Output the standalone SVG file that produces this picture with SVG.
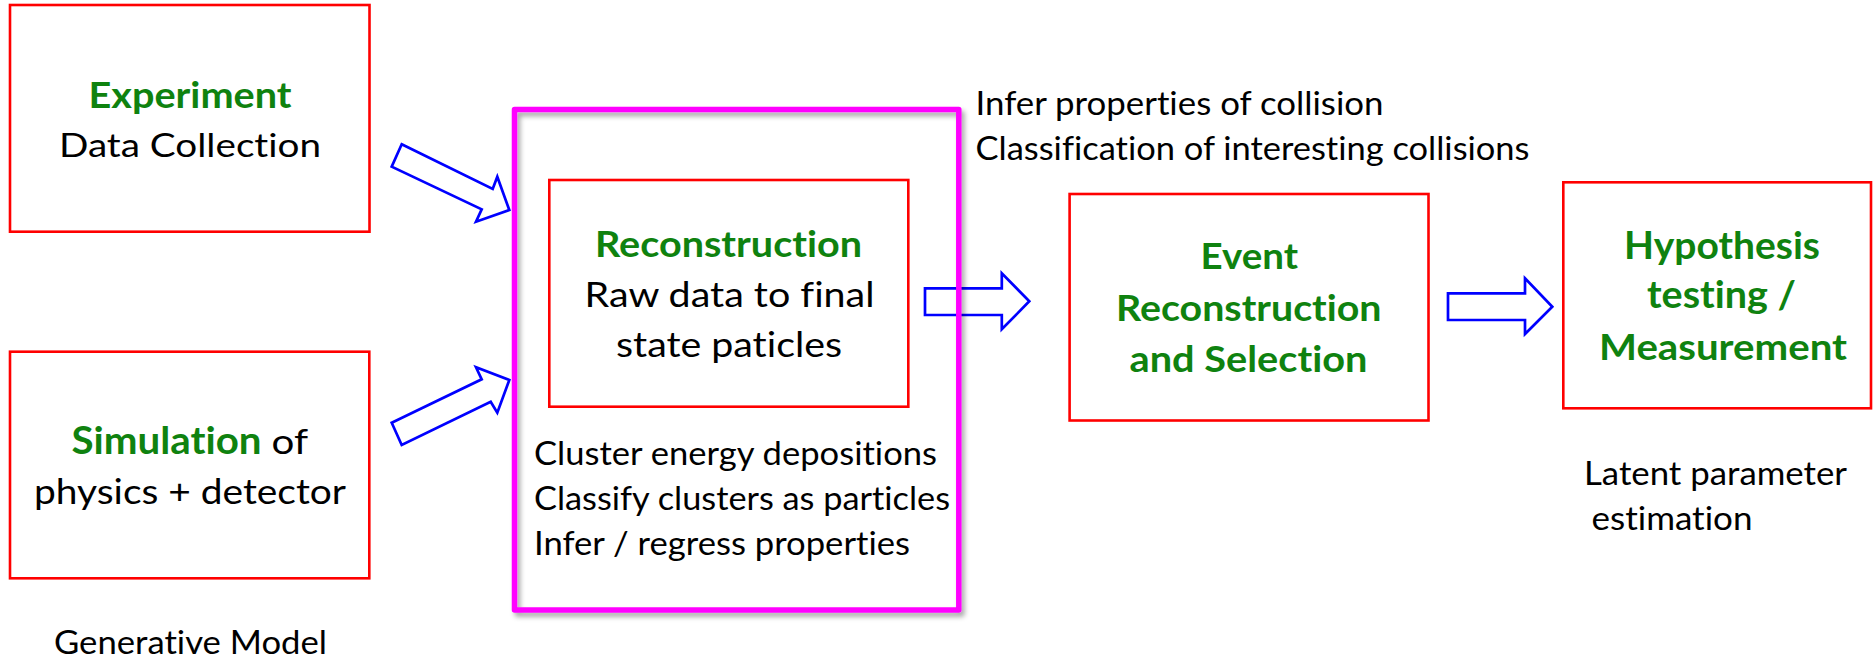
<svg xmlns="http://www.w3.org/2000/svg" width="1874" height="660" viewBox="0 0 1874 660">
<defs>
<style>
.box{fill:none;stroke:#FF0000;stroke-width:2.6}
.arrow{fill:#FFFFFF;stroke:#0000FF;stroke-width:2.7;stroke-linejoin:miter}
.t{font-family:Lato,"Liberation Sans",sans-serif;fill:#000000;font-variant-ligatures:none}
.b{font-family:Lato,"Liberation Sans",sans-serif;font-weight:bold;fill:#0F820F;font-variant-ligatures:none}
.frame{fill:none;stroke:#FF00FF;stroke-width:5.5;stroke-linejoin:round}
</style>
<filter id="shadow" x="-10%" y="-10%" width="120%" height="120%">
<feDropShadow dx="3" dy="4" stdDeviation="2.5" flood-color="#000000" flood-opacity="0.35"/>
</filter>
</defs>
<rect width="1874" height="660" fill="#FFFFFF"/>

<g id="connectors">
<polygon class="arrow" points="401.7,144.3 492.7,189 497.3,176.7 509.3,210 476,221.7 481.7,209.3 391.7,166.7"/>
<polygon class="arrow" points="391.7,422.7 481.7,379.3 476,367.3 509.3,380 497.3,412.7 490.7,401.7 401.7,445"/>
<polygon class="arrow" points="925,288.3 1001.8,288.3 1001.8,273.3 1029.3,301.3 1001.8,329.3 1001.8,315 925,315"/>
<polygon class="arrow" points="1448,293.3 1525,293.3 1525,278.3 1552.3,306.7 1525,334 1525,320 1448,320"/>
</g>

<g id="experiment">
<rect class="box" x="10" y="5" width="359.5" height="226.7"/>
<text class="b" x="88.5" y="108" font-size="37" textLength="203" lengthAdjust="spacingAndGlyphs">Experiment</text>
<text class="t" x="59" y="157" font-size="33.5" textLength="262" lengthAdjust="spacingAndGlyphs">Data Collection</text>
</g>

<g id="simulation">
<rect class="box" x="10" y="351.7" width="359.3" height="226.6"/>
<text class="b" x="71.5" y="454" font-size="38.5" textLength="190" lengthAdjust="spacingAndGlyphs">Simulation</text>
<text class="t" x="271.5" y="454" font-size="35" textLength="36.5" lengthAdjust="spacingAndGlyphs">of</text>
<text class="t" x="34" y="504" font-size="35" textLength="312" lengthAdjust="spacingAndGlyphs">physics + detector</text>
</g>

<g id="generative-model-label">
<text class="t" x="54" y="654" font-size="33" textLength="273" lengthAdjust="spacingAndGlyphs">Generative Model</text>
</g>

<g id="reconstruction-stage">
<rect class="frame" x="514.5" y="109.5" width="444.3" height="500.5" filter="url(#shadow)"/>
<text class="t" x="534" y="465" font-size="32" textLength="403" lengthAdjust="spacingAndGlyphs">Cluster energy depositions</text>
<text class="t" x="534" y="510" font-size="32" textLength="416" lengthAdjust="spacingAndGlyphs">Classify clusters as particles</text>
<text class="t" x="534" y="555" font-size="32" textLength="376" lengthAdjust="spacingAndGlyphs">Infer / regress properties</text>
</g>

<g id="reconstruction">
<rect class="box" x="549.3" y="180" width="359" height="226.7"/>
<text class="b" x="595" y="256.7" font-size="36" textLength="267" lengthAdjust="spacingAndGlyphs">Reconstruction</text>
<text class="t" x="584.5" y="307.3" font-size="35.5" textLength="290" lengthAdjust="spacingAndGlyphs">Raw data to final</text>
<text class="t" x="616" y="356.7" font-size="35.5" textLength="226" lengthAdjust="spacingAndGlyphs">state paticles</text>
</g>

<g id="event-labels">
<text class="t" x="975.5" y="115" font-size="32" textLength="408" lengthAdjust="spacingAndGlyphs">Infer properties of collision</text>
<text class="t" x="975.5" y="160" font-size="32" textLength="554" lengthAdjust="spacingAndGlyphs">Classification of interesting collisions</text>
</g>

<g id="event-selection">
<rect class="box" x="1069.6" y="194" width="358.9" height="226.5"/>
<text class="b" x="1200.5" y="269.3" font-size="36.5" textLength="97.5" lengthAdjust="spacingAndGlyphs">Event</text>
<text class="b" x="1116" y="320.7" font-size="36.5" textLength="265.5" lengthAdjust="spacingAndGlyphs">Reconstruction</text>
<text class="b" x="1129.5" y="371.7" font-size="36.5" textLength="238" lengthAdjust="spacingAndGlyphs">and Selection</text>
</g>

<g id="hypothesis">
<rect class="box" x="1563.3" y="182.3" width="307.7" height="226"/>
<text class="b" x="1624" y="259" font-size="38" textLength="196" lengthAdjust="spacingAndGlyphs">Hypothesis</text>
<text class="b" x="1647" y="308.3" font-size="38" textLength="149" lengthAdjust="spacingAndGlyphs">testing /</text>
<text class="b" x="1599" y="360" font-size="37" textLength="248" lengthAdjust="spacingAndGlyphs">Measurement</text>
</g>

<g id="latent-label">
<text class="t" x="1584" y="485" font-size="33" textLength="263" lengthAdjust="spacingAndGlyphs">Latent parameter</text>
<text class="t" x="1591.5" y="530" font-size="33" textLength="161" lengthAdjust="spacingAndGlyphs">estimation</text>
</g>
</svg>
